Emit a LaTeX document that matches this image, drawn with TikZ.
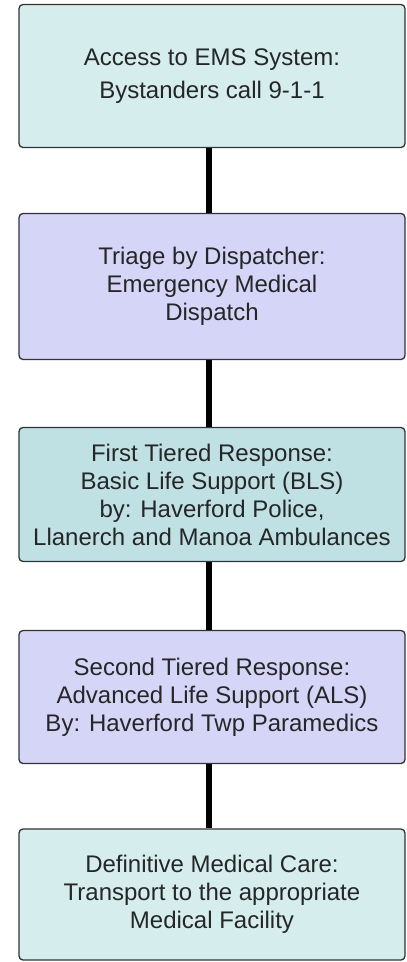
\documentclass[tikz,border=0pt]{standalone}
\usepackage{fontspec}
\setmainfont{Liberation Sans}
\definecolor{cyanbox}{HTML}{D5EDED}
\definecolor{lilacbox}{HTML}{D5D5F7}
\definecolor{tealbox}{HTML}{BFE1E4}
\definecolor{edge}{HTML}{333333}
\tikzset{
  stage/.style={draw=edge, line width=1.3pt, rounded corners=4pt, inner sep=0pt,
    minimum width=386pt, align=center, text=black!85,
    font=\fontsize{24}{28}\selectfont},
  link/.style={line width=6pt, black}
}
\begin{document}
\begin{tikzpicture}[x=1pt,y=-1pt]
        \useasboundingbox (0,0) rectangle (407,962);
        \node [stage, fill=cyanbox, minimum height=143pt,
          font=\fontsize{24}{33}\selectfont] (access) at (212,76)
          {Access to EMS System:\\Bystanders call 9-1-1};
        \node [stage, fill=lilacbox, minimum height=146pt] (triage) at (212,286.5)
          {Triage by Dispatcher:\\Emergency Medical\\Dispatch};
        \node [stage, fill=tealbox, minimum height=134pt] (bls) at (212,494.5)
          {First Tiered Response:\\Basic Life Support (BLS)\\by: Haverford Police,\\Llanerch and Manoa Ambulances};
        \node [stage, fill=lilacbox, minimum height=133pt] (als) at (212,697)
          {Second Tiered Response:\\Advanced Life Support (ALS)\\By: Haverford Twp Paramedics};
        \node [stage, fill=cyanbox, minimum height=131pt] (care) at (212,894.5)
          {Definitive Medical Care:\\Transport to the appropriate\\Medical Facility};
        \foreach \a/\b in {access/triage,triage/bls,bls/als,als/care}{
          \draw [link] ([xshift=-3pt]\a.south) -- ([xshift=-3pt]\b.north);
        }
      \end{tikzpicture}
\end{document}
